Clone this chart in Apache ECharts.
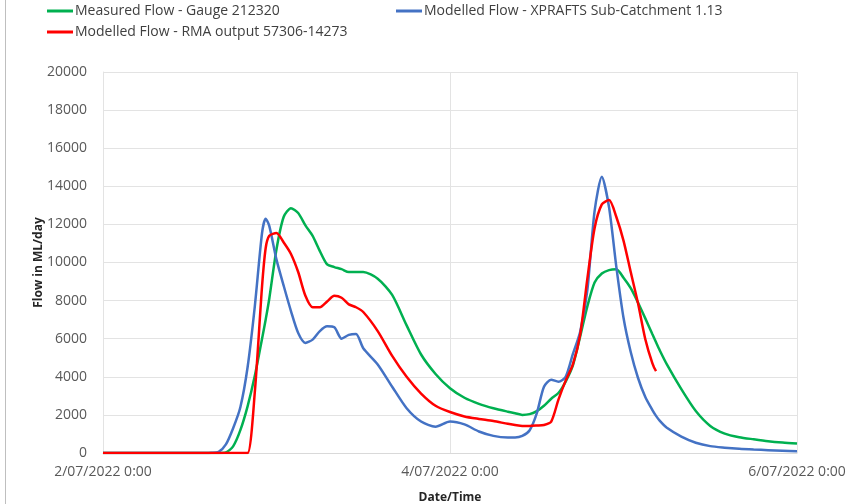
<!DOCTYPE html>
<html>
<head>
<meta charset="utf-8">
<script src="https://cdn.jsdelivr.net/npm/echarts@6/dist/echarts.min.js"></script>
<style>
  html, body { margin: 0; padding: 0; background: #ffffff; }
  #chart { width: 846px; height: 504px; }
</style>
</head>
<body>
<div id="chart"></div>
<script>
// Hours elapsed since 2/07/2022 0:00
const hours = [0, 14, 15, 16, 17, 18, 19, 20, 21, 22, 22.5, 23, 24, 25, 26, 27, 28, 29, 30, 31, 32, 33, 34, 35, 36,
  38, 40, 42, 44, 46, 48, 50, 52, 54, 56, 57, 58, 59, 60, 61, 62, 63, 64, 65, 66, 67, 68, 69, 70, 71, 72, 73, 74, 75,
  76, 76.5, 77, 78, 80, 82, 84, 86, 88, 90, 92, 94, 96];

// Flow in ML/day
const measuredFlow = [0, 0, 0, 0, 30, 350, 1200, 2450, 4050, 6000, 7000, 8100, 10700, 12400, 12850, 12600, 11950, 11400,
  10600, 9900, 9760, 9650, 9500, 9500, 9500, 9150, 8300, 6700, 5170, 4150, 3400, 2900, 2580, 2350, 2170, 2090, 2000, 2040,
  2200, 2480, 2850, 3150, 3750, 4600, 6100, 7700, 8950, 9420, 9600, 9640, 9200, 8650, 7900, 7080, 6230, 5810, 5400, 4650,
  3350, 2200, 1420, 1020, 830, 720, 620, 550, 500];

const xpraftsFlow = [0, 0, 10, 60, 450, 1300, 2400, 4500, 7700, 11550, 12300, 11920, 10150, 8770, 7450, 6300, 5780, 5950,
  6400, 6650, 6600, 6000, 6200, 6250, 5500, 4650, 3480, 2350, 1650, 1380, 1650, 1500, 1130, 900, 820, 820, 900, 1180,
  2080, 3480, 3850, 3740, 4000, 5200, 6350, 8550, 12700, 14500, 12900, 9800, 7100, 5300, 3950, 2950, 2250, 1950, 1700, 1320,
  860, 540, 360, 280, 220, 180, 150, 120, 90];

const rmaFlow = [0, 0, 0, 0, 0, 0, 0, 0, 3200, 8750, 10750, 11400, 11550, 11050, 10450, 9500, 8250, 7650,
  7650, 7950, 8250, 8150, 7800, 7650, 7400, 6400, 5100, 4000, 3120, 2480, 2150, 1920, 1790, 1680, 1530, 1470, 1420, 1420,
  1440, 1470, 1650, 2800, 3800, 4650, 6200, 9150, 11800, 13050, 13280, 12400, 11150, 9500, 7870, 6000, 4700, 4300, null, null,
  null, null, null, null, null, null, null, null, null];

const xTickLabels = ['2/07/2022 0:00', '4/07/2022 0:00', '6/07/2022 0:00'];
const seriesNames = ['Measured Flow - Gauge 212320', 'Modelled Flow - XPRAFTS Sub-Catchment 1.13', 'Modelled Flow - RMA output 57306-14273'];
const seriesColors = ['#00b050', '#4472c4', '#ff0000'];

const font = 'Open Sans';

function pairs(values) {
  return hours.map((h, i) => [h, values[i]]);
}

const chart = echarts.init(document.getElementById('chart'), null, { renderer: 'canvas' });

function legendFor(name, left, top) {
  return {
    data: [name],
    left: left,
    top: top,
    icon: 'rect',
    itemWidth: 26,
    itemHeight: 3,
    itemGap: 0,
    padding: 0,
    selectedMode: false,
    textStyle: { fontFamily: font, fontSize: 14, color: '#404040', padding: [0, 0, 0, -3] }
  };
}

chart.setOption({
  animation: false,
  backgroundColor: '#ffffff',
  textStyle: { fontFamily: font },
  legend: [
    legendFor(seriesNames[0], 47, 4),
    legendFor(seriesNames[1], 396, 4),
    legendFor(seriesNames[2], 47, 25)
  ],
  grid: { left: 103, right: 49, top: 72, bottom: 51, containLabel: false, outerBoundsMode: 'none' },
  xAxis: {
    type: 'value',
    min: 0,
    max: 96,
    interval: 48,
    name: 'Date/Time',
    nameLocation: 'middle',
    nameGap: 39,
    nameMoveOverlap: false,
    nameTextStyle: { fontFamily: font, fontSize: 12, fontWeight: 'bold', color: '#262626' },
    axisLine: { show: true, lineStyle: { color: '#d9d9d9', width: 1 } },
    axisTick: { show: false },
    axisLabel: {
      margin: 12,
      fontFamily: font,
      fontSize: 14,
      color: '#595959',
      showMaxLabel: true,
      showMinLabel: true,
      formatter: v => xTickLabels[Math.round(v / 48)]
    },
    splitLine: { show: true, lineStyle: { color: '#e3e3e3', width: 1 } }
  },
  yAxis: {
    type: 'value',
    min: 0,
    max: 20000,
    interval: 2000,
    name: 'Flow in ML/day',
    nameLocation: 'middle',
    nameRotate: 90,
    nameGap: 58,
    nameMoveOverlap: false,
    nameTextStyle: { fontFamily: font, fontSize: 12, fontWeight: 'bold', color: '#262626' },
    axisLine: { show: true, lineStyle: { color: '#e3e3e3' } },
    axisTick: { show: false },
    axisLabel: { margin: 16, fontFamily: font, fontSize: 14, color: '#595959', formatter: v => String(v) },
    splitLine: { show: true, lineStyle: { color: '#e3e3e3', width: 1 } }
  },
  series: [measuredFlow, xpraftsFlow, rmaFlow].map((vals, i) => ({
    name: seriesNames[i],
    type: 'line',
    data: pairs(vals),
    showSymbol: false,
    symbol: 'none',
    smooth: 0.25,
    connectNulls: false,
    lineStyle: { color: seriesColors[i], width: 2.5 },
    itemStyle: { color: seriesColors[i] },
    z: 2 + i
  })),
  graphic: [{
    type: 'line',
    shape: { x1: 5.5, y1: 0, x2: 5.5, y2: 504 },
    style: { stroke: '#bfbfbf', lineWidth: 1 },
    silent: true
  }]
});
</script>
</body>
</html>
